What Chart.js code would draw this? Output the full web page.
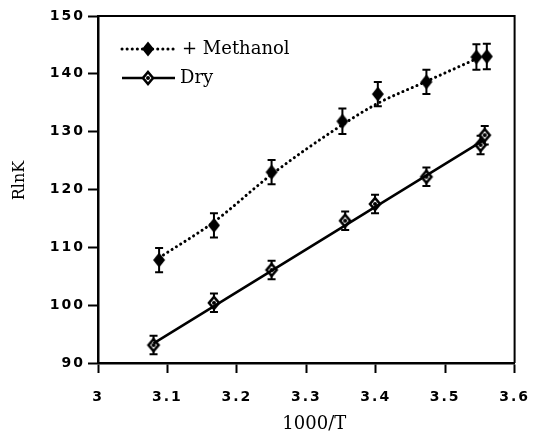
<!DOCTYPE html>
<html>
<head>
<meta charset="utf-8">
<script src="https://cdn.jsdelivr.net/npm/chart.js@4/dist/chart.umd.min.js"></script>
<style>
  html, body { margin: 0; padding: 0; background: #fff; }
</style>
</head>
<body>
<canvas id="chart" width="543" height="435"></canvas>
<script>
// values
const methanolX = [3.088, 3.167, 3.250, 3.352, 3.403, 3.473, 3.545, 3.560];
const methanolY = [107.8, 113.8, 123.0, 131.8, 136.5, 138.6, 142.9, 143.0];
const methanolErr = [2.1, 2.1, 2.1, 2.2, 2.1, 2.1, 2.2, 2.2];
// dotted smooth curve through the methanol data, as drawn
const methanolFitX = [3.088, 3.167, 3.250, 3.352, 3.403, 3.473, 3.545];
const methanolFitY = [108.2, 114.4, 122.6, 131.2, 134.9, 138.7, 142.6];
const dryX = [3.080, 3.167, 3.250, 3.356, 3.399, 3.473, 3.551, 3.557];
const dryY = [93.1, 100.4, 106.1, 114.6, 117.5, 122.2, 127.7, 129.4];
const dryErr = [1.6, 1.6, 1.6, 1.6, 1.6, 1.6, 1.6, 1.6];
// solid straight fit through the dry data
const dryFitX = [3.080, 3.555];
const dryFitY = [93.4, 128.5];
const xTicks = [3, 3.1, 3.2, 3.3, 3.4, 3.5, 3.6];
const yTicks = [90, 100, 110, 120, 130, 140, 150];
const labels = ['+ Methanol', 'Dry'];

const pts = (xs, ys) => xs.map((x, i) => ({ x, y: ys[i] }));

// marker icons
function diamondIcon(filled) {
  const c = document.createElement('canvas');
  c.width = 18; c.height = 18;
  const g = c.getContext('2d');
  g.beginPath();
  if (filled) {
    g.moveTo(9, 1.5); g.lineTo(15, 9); g.lineTo(9, 16.5); g.lineTo(3, 9); g.closePath();
    g.fillStyle = '#000'; g.fill();
  } else {
    g.moveTo(9, 3); g.lineTo(14, 9); g.lineTo(9, 15); g.lineTo(4, 9); g.closePath();
    g.fillStyle = '#fff'; g.fill();
    g.lineWidth = 2.6; g.strokeStyle = '#000'; g.stroke();
    g.beginPath(); g.arc(9, 9, 2, 0, Math.PI * 2); g.fillStyle = '#000'; g.fill();
  }
  return c;
}
const filledIcon = diamondIcon(true);
const openIcon = diamondIcon(false);

const DOTS = [0.1, 5];

const errorBars = {
  id: 'errorBars',
  beforeDatasetsDraw(chart) {
    const { ctx, scales: { x, y } } = chart;
    ctx.letterSpacing = '0px';
    const sets = [[methanolX, methanolY, methanolErr], [dryX, dryY, dryErr]];
    ctx.save();
    ctx.strokeStyle = '#000';
    ctx.lineWidth = 2;
    sets.forEach(([xs, ys, es]) => {
      xs.forEach((v, i) => {
        const px = x.getPixelForValue(v);
        const top = y.getPixelForValue(ys[i] + es[i]);
        const bot = y.getPixelForValue(ys[i] - es[i]);
        ctx.beginPath();
        ctx.moveTo(px, top); ctx.lineTo(px, bot);
        ctx.moveTo(px - 4, top); ctx.lineTo(px + 4, top);
        ctx.moveTo(px - 4, bot); ctx.lineTo(px + 4, bot);
        ctx.stroke();
      });
    });
    ctx.restore();
  }
};

const spacing = {
  id: 'spacing',
  beforeDraw(chart) { chart.ctx.letterSpacing = '2px'; }
};

const frameAndText = {
  id: 'frameAndText',
  afterDraw(chart) {
    const { ctx, chartArea: a } = chart;
    ctx.save();
    ctx.letterSpacing = '0px';
    ctx.strokeStyle = '#000';
    ctx.lineWidth = 2;
    ctx.beginPath();
    ctx.moveTo(a.left, a.top); ctx.lineTo(a.right, a.top); ctx.lineTo(a.right, a.bottom);
    ctx.stroke();

    // legend
    const lx = a.left + 24, rows = [a.top + 33, a.top + 62];
    ctx.lineWidth = 3; ctx.lineCap = 'round';
    ctx.setLineDash(DOTS);
    ctx.beginPath(); ctx.moveTo(lx, rows[0]); ctx.lineTo(lx + 53, rows[0]); ctx.stroke();
    ctx.setLineDash([]);
    ctx.lineWidth = 2.5; ctx.lineCap = 'butt';
    ctx.beginPath(); ctx.moveTo(lx, rows[1]); ctx.lineTo(lx + 53, rows[1]); ctx.stroke();
    ctx.drawImage(filledIcon, lx + 26 - 9, rows[0] - 9);
    ctx.drawImage(openIcon, lx + 26 - 9, rows[1] - 9);
    ctx.fillStyle = '#000';
    ctx.font = '18px "DejaVu Serif"';
    ctx.textBaseline = 'middle';
    ctx.textAlign = 'left';
    ctx.fillText(labels[0], lx + 60, rows[0]);
    ctx.fillText(labels[1], lx + 58, rows[1]);

    // axis titles
    ctx.font = '18px "DejaVu Serif"';
    ctx.textAlign = 'center';
    ctx.textBaseline = 'alphabetic';
    ctx.fillText('1000/T', (a.left + a.right) / 2 + 8, 429);
    ctx.translate(24, (a.top + a.bottom) / 2 - 9);
    ctx.rotate(-Math.PI / 2);
    ctx.font = '16px "DejaVu Serif"';
    ctx.fillText('RlnK', 0, 0);
    ctx.restore();
  }
};

new Chart(document.getElementById('chart'), {
  type: 'scatter',
  data: {
    datasets: [
      {
        label: 'Methanol curve',
        data: pts(methanolFitX, methanolFitY),
        showLine: true,
        borderColor: '#000',
        borderWidth: 3,
        borderDash: DOTS,
        borderCapStyle: 'round',
        cubicInterpolationMode: 'monotone',
        pointRadius: 0
      },
      {
        label: labels[0],
        data: pts(methanolX, methanolY),
        showLine: false,
        pointStyle: filledIcon,
        pointRadius: 7
      },
      {
        label: 'Dry fit',
        data: pts(dryFitX, dryFitY),
        showLine: true,
        borderColor: '#000',
        borderWidth: 2.5,
        pointRadius: 0
      },
      {
        label: labels[1],
        data: pts(dryX, dryY),
        showLine: false,
        pointStyle: openIcon,
        pointRadius: 7
      }
    ]
  },
  options: {
    responsive: false,
    animation: false,
    devicePixelRatio: 1,
    layout: { padding: { top: 16, right: 16, left: 0, bottom: 0 } },
    plugins: { legend: { display: false }, tooltip: { enabled: false } },
    scales: {
      x: {
        type: 'linear',
        min: 3, max: 3.6,
        afterBuildTicks: s => { s.ticks = xTicks.map(v => ({ value: v })); },
        afterFit: s => { s.height = 72; },
        grid: { drawOnChartArea: false, tickLength: 10, tickWidth: 2, tickColor: '#000' },
        border: { color: '#000', width: 2.5 },
        ticks: {
          color: '#000',
          padding: 16,
          font: { family: '"DejaVu Sans"', size: 14, weight: 'bold' },
          callback: v => String(+(+v).toFixed(1))
        }
      },
      y: {
        type: 'linear',
        min: 90, max: 150,
        afterBuildTicks: s => { s.ticks = yTicks.map(v => ({ value: v })); },
        afterFit: s => { s.width = 98; },
        grid: { drawOnChartArea: false, tickLength: 10, tickWidth: 2, tickColor: '#000' },
        border: { color: '#000', width: 2.5 },
        ticks: {
          color: '#000',
          padding: 3,
          font: { family: '"DejaVu Sans"', size: 14, weight: 'bold' }
        }
      }
    }
  },
  plugins: [spacing, errorBars, frameAndText]
});
</script>
</body>
</html>
